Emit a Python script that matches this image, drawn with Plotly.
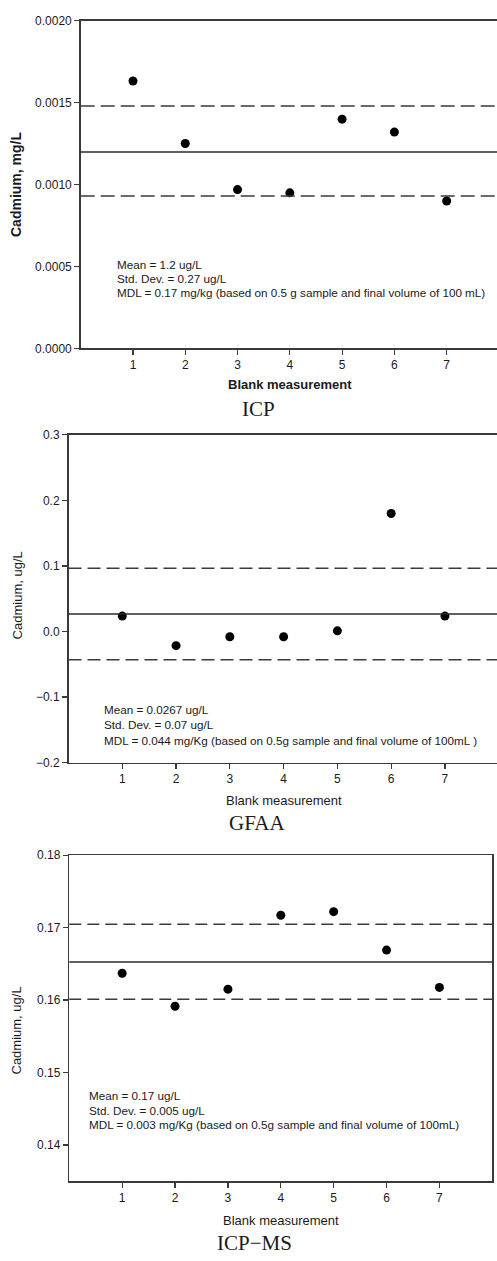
import plotly.graph_objects as go

W, H = 497, 1261

# ---------------- data ----------------
blank_ids = [1, 2, 3, 4, 5, 6, 7]

icp_values = [0.001633, 0.001251, 0.00097, 0.00095, 0.00140, 0.001321, 0.00090]
icp_mean = 0.00120
icp_upper = 0.00148
icp_lower = 0.00093
icp_yticks = [0.0, 0.0005, 0.0010, 0.0015, 0.0020]

gfaa_values = [0.0235, -0.0217, -0.0081, -0.0081, 0.001, 0.180, 0.0235]
gfaa_mean = 0.0267
gfaa_upper = 0.0964
gfaa_lower = -0.0433
gfaa_yticks = [-0.2, -0.1, 0.0, 0.1, 0.2, 0.3]

ms_values = [0.1637, 0.15914, 0.1615, 0.1717, 0.1722, 0.1669, 0.16174]
ms_mean = 0.16526
ms_upper = 0.17047
ms_lower = 0.1601
ms_yticks = [0.14, 0.15, 0.16, 0.17, 0.18]

icp_text = ["Mean = 1.2 ug/L", "Std. Dev. = 0.27 ug/L",
            "MDL = 0.17 mg/kg (based on 0.5 g sample and final volume of 100 mL)"]
gfaa_text = ["Mean = 0.0267 ug/L", "Std. Dev. = 0.07 ug/L",
             "MDL = 0.044 mg/Kg (based on 0.5g sample and final volume of 100mL )"]
ms_text = ["Mean = 0.17 ug/L", "Std. Dev. = 0.005 ug/L",
           "MDL = 0.003 mg/Kg (based on 0.5g sample and final volume of 100mL)"]

captions = ["ICP", "GFAA", "ICP\u2212MS"]
ytitles = ["<b>Cadmium, mg/L</b>", "Cadmium, ug/L", "Cadmium, ug/L"]
xtitles = ["<b>Blank measurement</b>", "Blank measurement", "Blank measurement"]

# ---------------- layout geometry (pixels) ----------------
def px_x(p):
    return p / W

def px_y(p):
    return 1 - p / H

panels = [
    dict(vals=icp_values, mean=icp_mean, up=icp_upper, lo=icp_lower, yticks=icp_yticks,
         yfmt=".4f", yrange=[0, 0.002], xleft=80.7, xright=497, xmax=7.963,
         top=14, bottom=345.3, ymirror=False, text=icp_text, tx=115,
         ty=[260, 274.5, 289], ytitle_x=16, ytitle_y=180,
         xtitle_y=381.7, cap_y=406.7, cap_x=258, dash="14px,6px"),
    dict(vals=gfaa_values, mean=gfaa_mean, up=gfaa_upper, lo=gfaa_lower, yticks=gfaa_yticks,
         yfmt=".1f", yrange=[-0.2, 0.3], xleft=68.5, xright=497, xmax=7.968,
         top=432.7, bottom=764, ymirror=False, text=gfaa_text, tx=101.7,
         ty=[710, 726, 741.7], ytitle_x=17, ytitle_y=595,
         xtitle_y=802, cap_y=825, cap_x=257, dash="13px,6px"),
    dict(vals=ms_values, mean=ms_mean, up=ms_upper, lo=ms_lower, yticks=ms_yticks,
         yfmt=".2f", yrange=[0.135, 0.18], xleft=69.3, xright=492.3, xmax=8,
         top=857.7, bottom=1187.3, ymirror=True, text=ms_text, tx=87.3,
         ty=[1100.7, 1115.5, 1130.5], ytitle_x=17, ytitle_y=1035,
         xtitle_y=1226.7, cap_y=1250, cap_x=254, dash="12px,6px"),
]

AX = "#3a3a3a"
FONT = "Liberation Sans, Arial, sans-serif"
TXT = "#1a1a1a"

fig = go.Figure()
layout = dict(
    width=W, height=H, autosize=False,
    margin=dict(l=0, r=0, t=0, b=0),
    paper_bgcolor="white", plot_bgcolor="white",
    showlegend=False,
    font=dict(family=FONT, size=12, color=TXT),
)
shapes = []
annotations = []

for i, p in enumerate(panels, start=1):
    xa = "x" if i == 1 else f"x{i}"
    ya = "y" if i == 1 else f"y{i}"
    fig.add_trace(go.Scatter(
        x=blank_ids, y=p["vals"], mode="markers",
        marker=dict(color="black", size=9),
        xaxis=xa, yaxis=ya, hoverinfo="skip"))

    layout["xaxis" if i == 1 else f"xaxis{i}"] = dict(
        domain=[px_x(p["xleft"]), px_x(p["xright"])],
        range=[0, p["xmax"]], anchor=ya,
        tickvals=blank_ids, ticks="outside", ticklen=5, tickwidth=1.2, tickcolor=AX,
        showline=True, linecolor=AX, linewidth=1.5, mirror=True,
        showgrid=False, zeroline=False,
        tickfont=dict(size=12, family=FONT, color=TXT))
    layout["yaxis" if i == 1 else f"yaxis{i}"] = dict(
        domain=[px_y(p["bottom"]), px_y(p["top"])],
        range=p["yrange"], anchor=xa,
        tickvals=p["yticks"], tickformat=p["yfmt"],
        ticks="outside", ticklen=5, tickwidth=1.2, tickcolor=AX,
        showline=True, linecolor=AX, linewidth=1.5, mirror=p["ymirror"],
        showgrid=False, zeroline=False,
        tickfont=dict(size=12, family=FONT, color=TXT))

    # mean and limit lines
    shapes.append(dict(type="line", xref=f"{xa} domain", yref=ya, x0=0, x1=1,
                       y0=p["mean"], y1=p["mean"], line=dict(color="#2a2a2a", width=1.5)))
    for v in (p["up"], p["lo"]):
        shapes.append(dict(type="line", xref=f"{xa} domain", yref=ya, x0=0, x1=1,
                           y0=v, y1=v, line=dict(color="#3a3a3a", width=1.5, dash=p["dash"])))

    # stats text
    for line, ty in zip(p["text"], p["ty"]):
        annotations.append(dict(text=line, xref="paper", yref="paper",
                                x=px_x(p["tx"]), y=px_y(ty), xanchor="left", yanchor="middle",
                                showarrow=False, font=dict(size=11.7, family=FONT, color=TXT)))
    # y title
    annotations.append(dict(text=ytitles[i - 1], xref="paper", yref="paper",
                            x=px_x(p["ytitle_x"]), y=px_y(p["ytitle_y"]),
                            xanchor="center", yanchor="middle", textangle=-90, showarrow=False,
                            font=dict(size=14 if i == 1 else 13, family=FONT, color=TXT)))
    # x title
    xmid = (p["xleft"] + (p["xleft"] + (p["xright"] - p["xleft"]) * 8 / p["xmax"])) / 2
    annotations.append(dict(text=xtitles[i - 1], xref="paper", yref="paper",
                            x=px_x(xmid), y=px_y(p["xtitle_y"]),
                            xanchor="center", yanchor="middle", showarrow=False,
                            font=dict(size=13, family=FONT, color=TXT)))
    # caption
    annotations.append(dict(text=captions[i - 1], xref="paper", yref="paper",
                            x=px_x(p["cap_x"]), y=px_y(p["cap_y"]),
                            xanchor="center", yanchor="middle", showarrow=False,
                            font=dict(size=21, family="Liberation Serif, Times New Roman, serif",
                                      color=TXT)))

layout["shapes"] = shapes
layout["annotations"] = annotations
fig.update_layout(**layout)
fig.write_html("out.html",
               config={"displayModeBar": False, "staticPlot": True},
               post_script="document.body.style.margin='0';document.body.style.overflow='hidden';")
